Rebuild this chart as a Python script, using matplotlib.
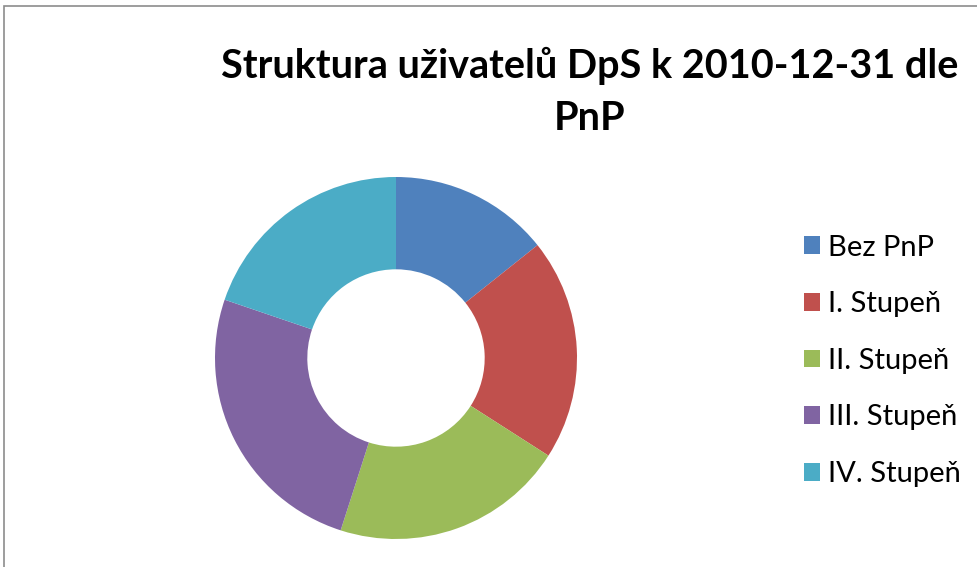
import matplotlib.pyplot as plt
from matplotlib.patches import Rectangle

W, H = 978, 567

categories = ["Bez PnP", "I. Stupeň", "II. Stupeň", "III. Stupeň", "IV. Stupeň"]
values = [13, 18, 19, 23, 18]
colors = ["#4F81BD", "#C0504D", "#9BBB59", "#8064A2", "#4BACC6"]

plt.rcParams['font.family'] = ['Lato', 'DejaVu Sans']

fig = plt.figure(figsize=(W / 100, H / 100), dpi=100)

# grey chart-area border (cropped on right and bottom)
fig.patches.append(Rectangle((4 / W, -0.1), 1.2, 1 - 6 / H + 0.1,
                             transform=fig.transFigure, fill=False,
                             edgecolor="#8c8c8c", linewidth=1.2))

# donut
cx, cy, r = 396, 358, 181
ax = fig.add_axes([(cx - r) / W, (H - cy - r) / H, 2 * r / W, 2 * r / H])
wedges, _ = ax.pie(values, colors=colors, startangle=90, counterclock=False,
                   radius=1, wedgeprops=dict(width=0.51, edgecolor="none"))
ax.set_xlim(-1, 1)
ax.set_ylim(-1, 1)
ax.set_aspect("equal")

fig.text(590 / W, 1 - 92 / H, "Struktura uživatelů DpS k 2010-12-31 dle\nPnP",
         ha="center", va="center", fontsize=28.5, fontweight="bold",
         linespacing=1.5)

fig.legend(wedges, categories, loc="upper left",
           bbox_to_anchor=(789 / W, 1 - 220 / H), frameon=False,
           fontsize=21, handlelength=0.55, handleheight=0.55,
           handletextpad=0.28, labelspacing=1.05, borderpad=0)

fig.savefig("out.png", dpi=100)
